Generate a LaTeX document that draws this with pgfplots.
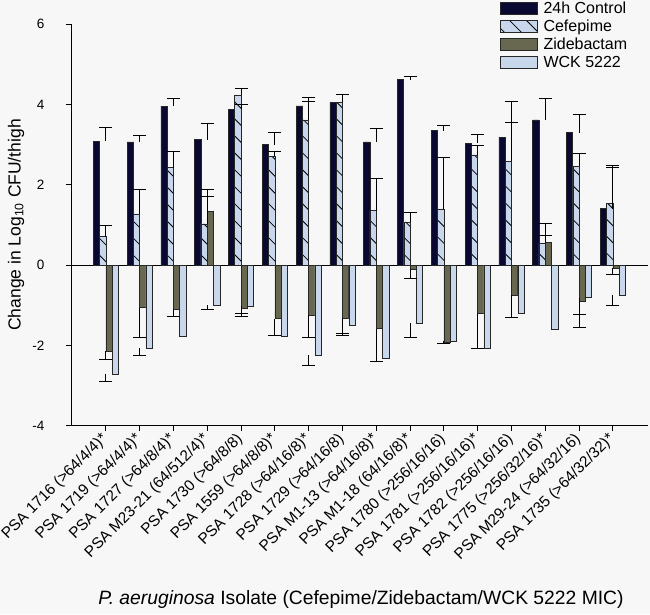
\documentclass[border=0pt]{standalone}
\usepackage{pgfplots}
\pgfplotsset{compat=1.18}
\usepackage{fontspec}
\setmainfont{Liberation Sans}
\usetikzlibrary{patterns.meta,backgrounds}

\definecolor{bgc}{RGB}{247,247,247}
\definecolor{ctrl}{RGB}{8,8,48}
\definecolor{cefe}{RGB}{200,215,235}
\definecolor{zide}{RGB}{104,104,80}
\definecolor{wck}{RGB}{200,215,235}

% mean change in log10 CFU/thigh, per isolate
\pgfplotstableread{
x  ctrl  cef   zid    wck
0  3.09  0.71  -2.14  -2.72
1  3.07  1.28  -1.06  -2.07
2  3.96  2.43  -1.09  -1.78
3  3.13  1.03   1.34  -1.00
4  3.88  4.24  -1.07  -1.02
5  3.00  2.71  -1.33  -1.76
6  3.97  3.62  -1.24  -2.24
7  4.06  4.06  -1.32  -1.49
8  3.07  1.36  -1.58  -2.33
9  4.62  1.08  -0.09  -1.44
10 3.35  1.40  -1.93  -1.90
11 3.04  2.75  -1.21  -2.08
12 3.19  2.59  -0.75  -1.19
13 3.62  0.55   0.57  -1.60
14 3.30  2.46  -0.91  -0.81
15 1.41  1.53  -0.07  -0.75
}\mic

\pgfplotsset{
  mybar/.style={ybar, bar width=0.186, draw=black!85, line width=0.5pt,
    legend image code/.code={\draw[##1] (0pt,-6pt) rectangle (37pt,6pt);}},
  myerr/.style 2 args={ybar, bar width=0.186, bar shift=#1, draw=none, fill=none, forget plot,
    error bars/.cd, y dir=#2, y explicit,
    error bar style={draw=black, line width=0.9pt},
    error mark options={rotate=90, mark size=6.5pt, draw=black, line width=0.9pt}},
}

\begin{document}
\begin{tikzpicture}
\begin{axis}[
  scale only axis, width=577pt, height=401.4pt,
  xmin=-1.03, xmax=16.04, ymin=-4, ymax=6,
  axis x line*=bottom, axis y line*=left,
  axis line style={-, black, line width=0.8pt},
  tick align=outside, major tick length=5pt,
  tick style={black, line width=0.8pt},
  ytick={-4,-2,0,2,4,6},
  xtick={0,...,15},
  xticklabels={PSA 1716 (>64/4/4)*, PSA 1719 (>64/4/4)*, PSA 1727 (>64/8/4)*,
    PSA M23-21 (64/512/4)*, PSA 1730 (>64/8/8), PSA 1559 (>64/8/8)*,
    PSA 1728 (>64/16/8)*, PSA 1729 (>64/16/8), PSA M1-13 (>64/16/8)*,
    PSA M1-18 (64/16/8)*, PSA 1780 (>256/16/16), PSA 1781 (>256/16/16)*,
    PSA 1782 (>256/16/16), PSA 1775 (>256/32/16)*, PSA M29-24 (>64/32/16),
    PSA 1735 (>64/32/32)*},
  /pgf/number format/assume math mode=true,
  yticklabel style={font=\fontsize{13.5}{15}\selectfont, xshift=-18pt},
  xticklabel style={font=\fontsize{15.4}{18}\selectfont, yshift=-5pt, rotate=45, anchor=east, inner sep=1pt},
  ylabel={Change in Log\textsubscript{10} CFU/thigh},
  ylabel style={font=\fontsize{17.5}{20}\selectfont, at={(axis description cs:-0.095,0.5)}, anchor=center},
  xlabel={\textit{P. aeruginosa} Isolate (Cefepime/Zidebactam/WCK 5222 MIC)},
  xlabel style={font=\fontsize{19.3}{22}\selectfont, at={(axis description cs:0.5026,0)}, yshift=-174pt, anchor=center},
  legend style={at={(axis description cs:0.738,1.066)}, anchor=north west,
    draw=none, fill=none, font=\fontsize{16}{18}\selectfont, row sep=1pt,
    /tikz/every odd column/.append style={column sep=4pt}},
  legend cell align=left,
]
\draw[black, line width=0.8pt] (axis cs:-1.03,0) -- (axis cs:16.04,0);

\addplot[mybar, bar shift=-0.28, fill=ctrl] table[x=x, y=ctrl]{\mic};
\addlegendentry{24h Control}
\addplot[mybar, bar shift=-0.093, fill=cefe,
  postaction={pattern={Lines[angle=-45, distance=12pt, line width=0.8pt]}}] table[x=x, y=cef]{\mic};
\addlegendentry{Cefepime}
\addplot[mybar, bar shift=0.093, fill=zide] table[x=x, y=zid]{\mic};
\addlegendentry{Zidebactam}
\addplot[mybar, bar shift=0.28, fill=wck] table[x=x, y=wck]{\mic};
\addlegendentry{WCK 5222}

% error bars (one-sided, away from zero)
\addplot[myerr={-0.28}{plus}] coordinates {
  (0,3.09) +- (0,0.35) (1,3.07) +- (0,0.17) (2,3.96) +- (0,0.20) (3,3.13) +- (0,0.39)
  (4,3.88) +- (0,0.13) (5,3.00) +- (0,0.31) (6,3.97) +- (0,0.21) (7,4.06) +- (0,0.20)
  (8,3.07) +- (0,0.34) (9,4.62) +- (0,0.09) (10,3.35) +- (0,0.13) (11,3.04) +- (0,0.22)
  (12,3.19) +- (0,0.37) (13,3.62) +- (0,0.54) (14,3.30) +- (0,0.46) (15,1.41) +- (0,1.08)};
\addplot[myerr={-0.093}{plus}] coordinates {
  (0,0.71) +- (0,0.29) (1,1.28) +- (0,0.60) (2,2.43) +- (0,0.40) (3,1.03) +- (0,0.67)
  (4,4.24) +- (0,0.17) (5,2.71) +- (0,0.12) (6,3.62) +- (0,0.47) (7,4.06) +- (0,0.20)
  (8,1.36) +- (0,0.80) (9,1.08) +- (0,0.24) (10,1.40) +- (0,1.29) (11,2.75) +- (0,0.23)
  (12,2.59) +- (0,1.50) (13,0.55) +- (0,0.20) (14,2.46) +- (0,0.32) (15,1.53) +- (0,0.90)};
\addplot[myerr={0.093}{plus}] coordinates {
  (3,1.34) +- (0,0.54) (13,0.57) +- (0,0.47)};
\addplot[myerr={0.093}{minus}] coordinates {
  (0,-2.14) +- (0,0.20) (1,-1.06) +- (0,0.75) (2,-1.09) +- (0,0.19)
  (4,-1.07) +- (0,0.13) (5,-1.33) +- (0,0.43) (6,-1.24) +- (0,0.57) (7,-1.32) +- (0,0.38)
  (8,-1.58) +- (0,0.81) (9,-0.09) +- (0,0.23) (10,-1.93) +- (0,0.02) (11,-1.21) +- (0,0.87)
  (12,-0.75) +- (0,0.55) (14,-0.91) +- (0,0.32) (15,-0.07) +- (0,0.15)};
\addplot[myerr={0.28}{minus}] coordinates {
  (0,-2.72) +- (0,0.17) (1,-2.07) +- (0,0.19) (3,-1.00) +- (0,0.10)
  (4,-1.02) +- (0,0.25) (6,-2.24) +- (0,0.25) (7,-1.49) +- (0,0.27)
  (8,-2.33) +- (0,0.06) (9,-1.44) +- (0,0.36) (10,-1.90) +- (0,0.05)
  (14,-0.81) +- (0,0.74) (15,-0.75) +- (0,0.25)};
\end{axis}
\pgfresetboundingbox
\begin{scope}[on background layer]
\fill[bgc] (-71pt,-188.3pt) rectangle (579pt,425.7pt);
\end{scope}
\path[use as bounding box] (-71pt,-188.3pt) rectangle (579pt,425.7pt);
\end{tikzpicture}
\end{document}
